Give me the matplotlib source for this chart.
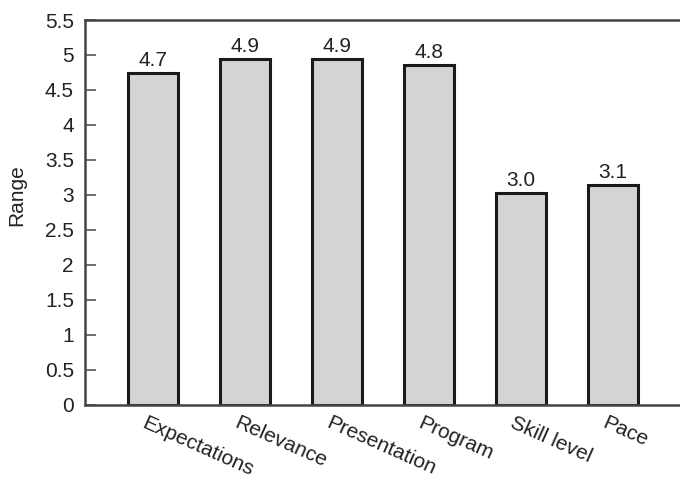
import numpy as np
import matplotlib
matplotlib.use("Agg")
import matplotlib.pyplot as plt
from matplotlib.transforms import ScaledTranslation

categories = ["Expectations", "Relevance", "Presentation", "Program", "Skill level", "Pace"]
bar_heights = [4.74, 4.94, 4.94, 4.86, 3.03, 3.14]
value_labels = ["4.7", "4.9", "4.9", "4.8", "3.0", "3.1"]
y_ticks = [0, 0.5, 1, 1.5, 2, 2.5, 3, 3.5, 4, 4.5, 5, 5.5]
y_tick_labels = ["0", "0.5", "1", "1.5", "2", "2.5", "3", "3.5", "4", "4.5", "5", "5.5"]

plt.rcParams.update({
    "font.family": ["Liberation Sans", "DejaVu Sans"],
    "font.size": 15,
})

fig = plt.figure(figsize=(6.8, 4.82), dpi=100)
ax = fig.add_axes([0.125, 0.16, 0.875, 0.7985])

x = np.arange(len(categories))
ax.bar(x, bar_heights, width=0.55, color="#d3d4d6", edgecolor="#1a1a1a", linewidth=2.2, zorder=2)

for xi, h, lab in zip(x, bar_heights, value_labels):
    ax.annotate(lab, (xi, h), xytext=(0, 2), textcoords="offset points",
                ha="center", va="bottom", fontsize=15, color="#222222")

ax.set_xlim(-0.74, 5.73)
ax.set_ylim(0, 5.5)
ax.set_yticks(y_ticks, y_tick_labels)
ax.tick_params(axis="y", direction="in", length=8, width=1.2, color="#555555",
               labelsize=15, labelcolor="#222222", pad=8)
ax.set_xticks(x, categories, rotation=-24, ha="left", va="top", rotation_mode="anchor")
ax.tick_params(axis="x", length=0, labelsize=15, labelcolor="#222222", pad=6)
shift = ScaledTranslation(-6 / 100, 0, fig.dpi_scale_trans)
for lbl in ax.get_xticklabels():
    lbl.set_transform(lbl.get_transform() + shift)

ax.set_ylabel("Range", fontsize=15, color="#222222")
ax.yaxis.set_label_coords(-0.099, 0.545)

for side in ["top", "bottom", "left"]:
    ax.spines[side].set_linewidth(1.8)
    ax.spines[side].set_color("#444444")
ax.spines["right"].set_visible(False)

fig.savefig("out.png", dpi=100)
